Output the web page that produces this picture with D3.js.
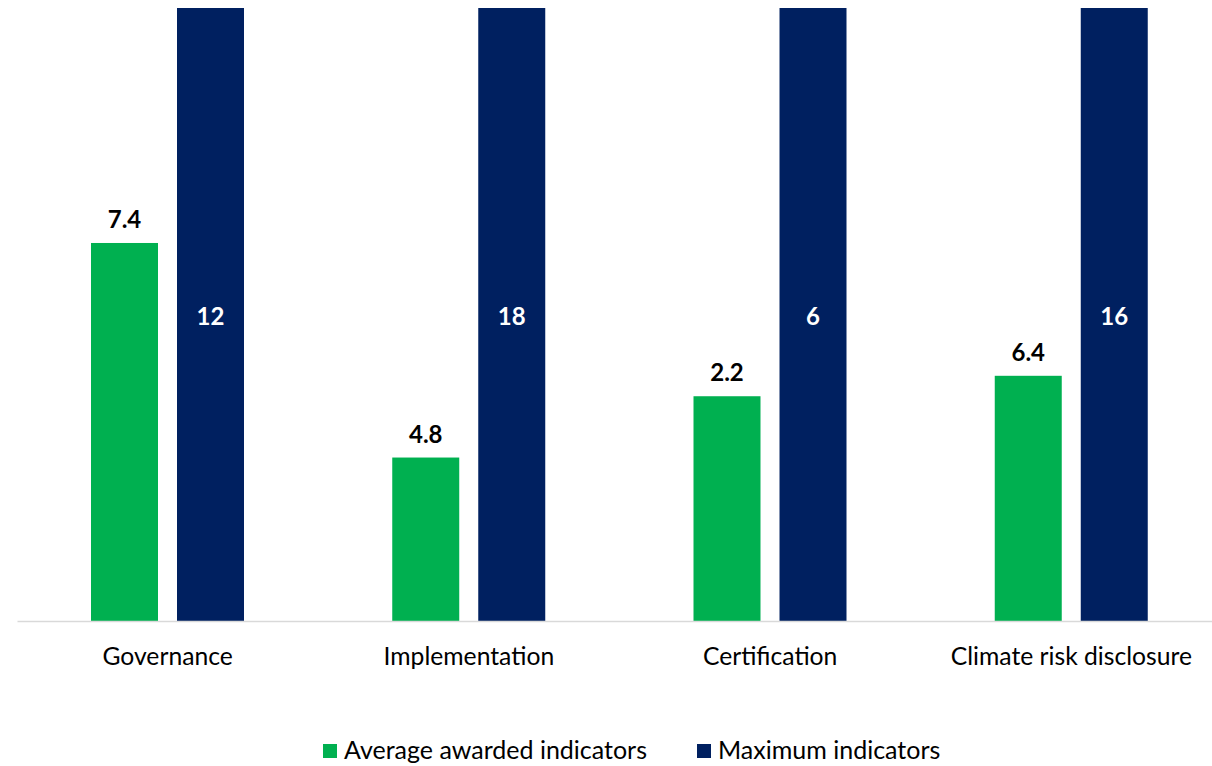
<!DOCTYPE html>
<html>
<head>
<meta charset="utf-8">
<script src="https://cdn.jsdelivr.net/npm/d3@7"></script>
<style>
  body { margin: 0; background: #fff; }
  svg { display: block; font-family: Lato, "Open Sans", sans-serif; }
</style>
</head>
<body>
<script>
const categories = ["Governance", "Implementation", "Certification", "Climate risk disclosure"];
const averageAwarded = [7.4, 4.8, 2.2, 6.4];
const maximumIndicators = [12, 18, 6, 16];
const seriesNames = ["Average awarded indicators", "Maximum indicators"];
const colors = ["#00b050", "#002060"];

const width = 1212, height = 766;
const margin = {top: 8, right: -10, bottom: 145, left: 17};

// bars are drawn as share of the maximum; labels show raw values
const data = categories.map((c, i) => ({
  name: c,
  values: [
    {key: 0, value: averageAwarded[i], share: averageAwarded[i] / maximumIndicators[i]},
    {key: 1, value: maximumIndicators[i], share: 1}
  ]
}));

const x0 = d3.scaleBand()
    .domain(categories)
    .range([margin.left, width - margin.right])
    .padding(0);

const x1 = d3.scaleBand()
    .domain([0, 1])
    .range([74, 227])
    .paddingInner(0.221);

const y = d3.scaleLinear()
    .domain([0, 1])
    .range([height - margin.bottom, margin.top]);

const svg = d3.select("body").append("svg")
    .attr("width", width)
    .attr("height", height)
    .attr("viewBox", [0, 0, width, height]);

const xAxis = g => g
    .attr("transform", `translate(0,${y(0)})`)
    .call(d3.axisBottom(x0).tickSize(0).tickSizeOuter(0))
    .call(g => g.select(".domain").attr("stroke", "#d9d9d9").attr("stroke-width", 1.5))
    .call(g => g.selectAll(".tick text")
        .attr("font-size", 24.7)
        .attr("font-family", "Lato, sans-serif")
        .attr("fill", "#000")
        .attr("dy", "1.65em"));

const groups = svg.append("g")
  .selectAll("g")
  .data(data)
  .join("g")
    .attr("transform", d => `translate(${x0(d.name)},0)`);

groups.selectAll("rect")
  .data(d => d.values)
  .join("rect")
    .attr("x", d => x1(d.key))
    .attr("y", d => y(d.share))
    .attr("width", x1.bandwidth())
    .attr("height", d => y(0) - y(d.share))
    .attr("fill", d => colors[d.key]);

groups.selectAll("text.val")
  .data(d => d.values)
  .join("text")
    .attr("class", "val")
    .attr("x", d => x1(d.key) + x1.bandwidth() / 2)
    .attr("y", d => d.key === 0 ? y(d.share) - 15 : (y(0) + y(1)) / 2 + 10)
    .attr("text-anchor", "middle")
    .attr("font-size", 24)
    .attr("font-weight", "bold")
    .attr("fill", d => d.key === 0 ? "#000" : "#fff")
    .text(d => d.value);

svg.append("g").call(xAxis);

// legend
const legendX = [323, 697];
const legend = svg.append("g")
  .selectAll("g")
  .data(seriesNames)
  .join("g")
    .attr("transform", (d, i) => `translate(${legendX[i]},744)`);

legend.append("rect")
    .attr("width", 14)
    .attr("height", 14)
    .attr("fill", (d, i) => colors[i]);

legend.append("text")
    .attr("x", 21)
    .attr("y", 15)
    .attr("font-size", 25)
    .attr("fill", "#000")
    .text(d => d);
</script>
</body>
</html>
